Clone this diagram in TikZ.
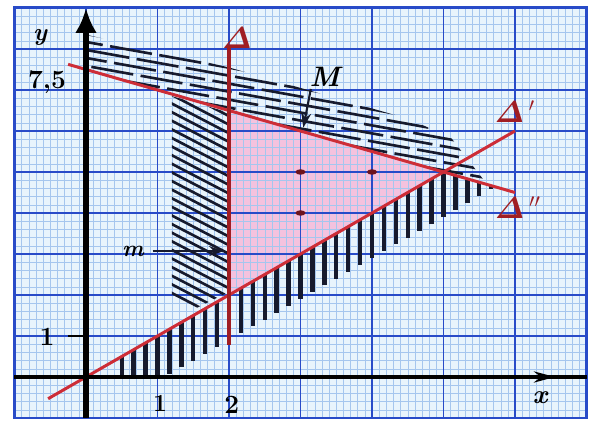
\documentclass[tikz,border=0pt]{standalone}
\usepackage{amsmath}
\usetikzlibrary{arrows.meta}
\definecolor{paper}{RGB}{232,244,252}
\definecolor{minorc}{RGB}{165,198,238}
\definecolor{majorc}{RGB}{40,75,200}
\definecolor{redl}{RGB}{205,45,55}
\definecolor{darkred}{RGB}{160,30,35}
\definecolor{pinkf}{RGB}{244,194,222}
\definecolor{hatchc}{RGB}{22,26,45}
\definecolor{dotc}{RGB}{110,20,30}
\begin{document}
\begin{tikzpicture}[x=1.43cm,y=0.82cm,
  redline/.style={redl,line width=1.7pt},
  hatchline/.style={hatchc,line width=1.5pt},
  vstroke/.style={hatchc,line width=2.5pt},
  axisline/.style={black,line width=2.4pt},
  lbl/.style={inner sep=0pt,font=\bfseries\fontsize{15}{15}\selectfont},
  dlbl/.style={inner sep=0pt,text=darkred,font=\fontsize{16}{16}\selectfont},
  ptr/.style={hatchc,line width=1.2pt,-{Stealth[length=0.3cm,width=0.2cm]}}]
\useasboundingbox (-1.2028,-1.122) rectangle (7.049,9.195);
% paper
\fill[paper] (-1,-1) rectangle (7,9.02);
\fill[pinkf] (2,6.5) -- (2,2) -- (5,5) -- cycle;
\draw[minorc,line width=0.25pt] (-1,-1) grid[xstep=0.1,ystep=0.2] (7,9.02);
\draw[majorc,line width=0.9pt] (-1,-1) grid[xstep=1,ystep=1] (7,9.02);
\draw[majorc,line width=1.2pt] (-1,-1) rectangle (7,9.02);
% upper hatching (above Delta'')
\begin{scope}
\clip (0,8.35) -- (2,7.55) -- (3,7.05) -- (4.5,6.3) -- (5.1,5.85) -- (5.6,4.72) -- (0,7.5) -- cycle;
\foreach \i in {0,...,40}{
  \pgfmathsetmacro\ph{mod(\i*23,50)*0.02}
  \draw[hatchline,dash pattern=on 0.85cm off 0.15cm,dash phase=\ph cm] (-0.2,9.6-\i*0.195) -- ++(6,-1.884);
}
\end{scope}
% left hatching (x<2)
\begin{scope}
\clip (1.2,6.85) -- (2,6.45) -- (1.97,2.05) -- (1.2,1.38) -- cycle;
\foreach \i in {0,...,26}{
  \draw[hatchline] (1.1,7.6-\i*0.21) -- ++(1.0,-0.907);
}
\end{scope}
% vertical strokes below Delta'
\foreach \k in {3,...,34}{
  \pgfmathsetmacro\xx{\k/6}
  \pgfmathsetmacro\yt{min(\xx,7.5-\xx/2)}
  \pgfmathsetmacro\sl{\xx>5 ? 1.1*(5.72-\xx)/0.72 : 1.1}
  \pgfmathsetmacro\yb{max(\yt-\sl,0.05)}
  \draw[vstroke] (\xx,\yt) -- (\xx,\yb);
}
% red lines
\coordinate (d2a) at (-0.25,7.625);
\coordinate (d2b) at (6,4.5);
\coordinate (d1a) at (-0.53,-0.53);
\coordinate (d1b) at (6,6);
\coordinate (da) at (2,8.1);
\coordinate (db) at (2,0.78);
\draw[redline] (d2a) -- (d2b);
\draw[redline] (d1a) -- (d1b);
\draw[darkred,line width=2.2pt] (da) -- (db);
% axes
\coordinate (ybot) at (0,-1);
\coordinate (ytop) at (0,9.0);
\coordinate (xl) at (-1,0);
\coordinate (xr) at (7,0);
\coordinate (xa) at (6.2,0);
\coordinate (xtip) at (6.56,0);
\draw[black,line width=3.2pt,-{Latex[length=0.5cm,width=0.44cm]}] (ybot) -- (ytop);
\draw[axisline] (xl) -- (xr);
\draw[axisline,-{Stealth[length=0.42cm,width=0.22cm]}] (xa) -- (xtip);
\coordinate (t1a) at (-0.25,1);
\coordinate (t1b) at (0,1);
\draw[black,line width=1.2pt] (t1a) -- (t1b);
% dots
\foreach \p/\q in {3/5,4/5,3/4}{
  \fill[dotc] (\p,\q) ellipse [x radius=0.1cm,y radius=0.055cm];
}
% labels
\node[lbl,font=\itshape\bfseries\fontsize{14}{14}\selectfont] (ly) at (-0.643,8.29) {y};
\node[lbl] (l75) at (-0.545,7.2) {7,5};
\node[lbl] (l1y) at (-0.545,0.976) {1};
\node[lbl,font=\bfseries\fontsize{14}{14}\selectfont] (l1x) at (1.035,-0.634) {1};
\node[lbl] (l2x) at (2.04,-0.68) {2};
\node[lbl,font=\itshape\bfseries\fontsize{15}{15}\selectfont] (lx) at (6.35,-0.51) {x};
\node[dlbl] (lD) at (2.11,8.27) {$\boldsymbol{\varDelta}$};
\node[dlbl] (lD1) at (6.0,6.46) {$\boldsymbol{\varDelta}\,'$};
\node[dlbl] (lD2) at (6.04,4.12) {$\boldsymbol{\varDelta}\,''$};
\node[lbl,font=\itshape\bfseries\fontsize{16}{16}\selectfont] (lM) at (3.34,7.32) {M};
\coordinate (Mpt) at (3.04,6.08);
\draw[ptr] (lM.south west) ++(0.02,-0.05) -- (Mpt);
\node[lbl,font=\itshape\bfseries\fontsize{13}{13}\selectfont] (lm) at (0.657,3.07) {m};
\coordinate (mpt) at (1.93,3.07);
\draw[ptr] (lm.east) ++(0.12,0) -- (mpt);
\end{tikzpicture}
\end{document}
